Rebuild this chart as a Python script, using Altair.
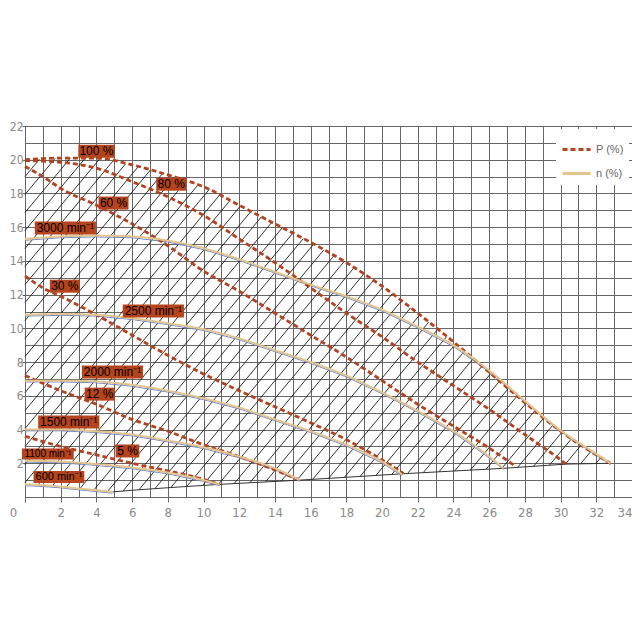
import altair as alt
import numpy as np
import pandas as pd

# ---------------- data ----------------
# Power curves P (%)  (x = flow, y = head)
P100_X = [0, 2, 4, 6, 8, 10, 12, 14, 16, 18, 20, 22, 24, 26, 28, 30, 32, 32.8]
P100_Y = [20.0, 20.1, 20.1, 19.7, 19.1, 18.4, 17.3, 16.2, 15.1, 13.9, 12.5, 10.9, 9.2, 7.4, 5.6, 3.9, 2.5, 2.0]
P80_X = [0, 2, 4, 6, 8, 10, 12, 14, 16, 18, 20, 22, 24, 26, 28, 30, 30.3]
P80_Y = [19.95, 19.85, 19.5, 18.7, 17.8, 16.7, 15.3, 13.9, 12.4, 10.9, 9.5, 8.0, 6.6, 5.2, 3.7, 2.2, 1.95]
P60_X = [0, 1, 2, 4, 6, 8, 10, 12, 14, 16, 18, 20, 22, 24, 26, 27.5]
P60_Y = [19.6, 19.0, 18.3, 17.3, 16.2, 14.9, 13.4, 12.2, 10.9, 9.6, 8.3, 6.9, 5.5, 4.2, 2.9, 1.8]
P30_X = [0, 1, 2, 4, 6, 8, 10, 12, 14, 16, 18, 20, 21.2]
P30_Y = [13.1, 12.4, 11.9, 10.8, 9.6, 8.4, 7.3, 6.3, 5.35, 4.4, 3.4, 2.2, 1.4]
P12_X = [0, 2, 4, 6, 8, 10, 12, 14, 15.4]
P12_Y = [7.2, 6.3, 5.5, 4.6, 3.9, 3.1, 2.4, 1.6, 1.0]
P5_X = [0, 2, 4, 6, 8, 10, 10.9]
P5_Y = [3.6, 3.0, 2.5, 2.0, 1.55, 1.05, 0.75]

# Speed curves n (min-1)
N3000_X = [0, 2, 4, 6, 8, 10, 12, 14, 16, 18, 20, 22, 24, 26, 28, 30, 32, 32.8]
N3000_Y = [15.3, 15.45, 15.5, 15.45, 15.2, 14.75, 14.1, 13.35, 12.6, 11.9, 11.1, 10.1, 9.0, 7.5, 5.7, 3.95, 2.55, 2.0]
N2500_X = [0, 2, 4, 6, 8, 10, 12, 14, 16, 18, 20, 22, 24, 26, 26.8]
N2500_Y = [10.8, 10.85, 10.8, 10.6, 10.3, 9.95, 9.4, 8.7, 8.0, 7.2, 6.2, 5.1, 3.9, 2.4, 1.7]
N2000_X = [0, 2, 4, 6, 8, 10, 12, 14, 16, 18, 20, 21.1]
N2000_Y = [6.9, 6.9, 6.85, 6.65, 6.3, 5.85, 5.3, 4.6, 3.9, 3.1, 2.1, 1.35]
N1500_X = [0, 2, 4, 6, 8, 10, 12, 14, 15.4]
N1500_Y = [4.0, 4.0, 3.9, 3.7, 3.35, 2.95, 2.4, 1.7, 1.0]
N1100_X = [0, 2, 4, 6, 8, 10, 10.9]
N1100_Y = [2.15, 2.1, 1.95, 1.75, 1.45, 1.0, 0.75]
N600_X = [0, 1, 2, 3, 4, 4.9]
N600_Y = [0.75, 0.7, 0.62, 0.5, 0.4, 0.3]

# lower limit of the operating field
BOUND_X = [4.9, 6, 8, 10.9, 15.4, 21.2, 26.8, 30.3, 32.8]
BOUND_Y = [0.3, 0.4, 0.55, 0.75, 1.0, 1.38, 1.7, 1.95, 2.0]

# curve labels
LABELS = ["100 %", "80 %", "60 %", "3000 min⁻¹", "30 %", "2500 min⁻¹",
          "2000 min⁻¹", "12 %", "1500 min⁻¹", "1100 min⁻¹", "5 %", "600 min⁻¹"]
LABEL_X = [4.0, 8.19, 4.96, 2.26, 2.23, 7.19, 4.9, 4.18, 2.45, 1.28, 5.74, 1.9]
LABEL_Y = [20.5, 18.55, 17.43, 15.95, 12.5, 11.03, 7.41, 6.1, 4.45, 2.55, 2.73, 1.19]
LABEL_FS = [12, 12, 12, 12, 12, 12, 12, 12, 12, 10, 12, 11]

X_TICKS = list(range(0, 35))
Y_TICKS = list(range(0, 23))

# ---------------- tables ----------------
P_CURVES = [("100 %", P100_X, P100_Y), ("80 %", P80_X, P80_Y), ("60 %", P60_X, P60_Y),
            ("30 %", P30_X, P30_Y), ("12 %", P12_X, P12_Y), ("5 %", P5_X, P5_Y)]
N_CURVES = [("3000", N3000_X, N3000_Y), ("2500", N2500_X, N2500_Y), ("2000", N2000_X, N2000_Y),
            ("1500", N1500_X, N1500_Y), ("1100", N1100_X, N1100_Y), ("600", N600_X, N600_Y)]

p_rows = []
for name, xs_, ys_ in P_CURVES:
    for i, (a, b) in enumerate(zip(xs_, ys_)):
        p_rows.append({"curve": name, "x": a, "y": b, "i": i, "kind": "P (%)"})
n_rows = []
for name, xs_, ys_ in N_CURVES:
    for i, (a, b) in enumerate(zip(xs_, ys_)):
        n_rows.append({"curve": name, "x": a, "y": b, "i": i, "kind": "n (%)"})
p_df = pd.DataFrame(p_rows)
n_df = pd.DataFrame(n_rows)
bound_df = pd.DataFrame({"x": BOUND_X, "y": BOUND_Y, "i": range(len(BOUND_X))})

W, H = 607, 371
# hatch of the operating field (diagonal lines clipped to the field)
PX_X = W / 34.0
PX_Y = H / 22.0
SLOPE = 1.2 * PX_X / PX_Y          # data-unit slope of hatch lines
SPACING = 15 / PX_X                # horizontal spacing of hatch lines
gx = np.linspace(0, 32.8, 5000)
top = np.interp(gx, P100_X, P100_Y)
bot = np.interp(gx, N600_X[:-1] + BOUND_X, N600_Y[:-1] + BOUND_Y)
h_rows = []
for x0 in np.arange(-20, 33, SPACING):
    yy = SLOPE * (gx - x0)
    m = (yy >= bot) & (yy <= top)
    if m.any():
        idx = np.where(m)[0]
        h_rows.append({"x": gx[idx[0]], "y": yy[idx[0]], "x2": gx[idx[-1]], "y2": yy[idx[-1]]})
hatch_df = pd.DataFrame(h_rows)

# label boxes
lab_rows = []
for t, a, b, fs in zip(LABELS, LABEL_X, LABEL_Y, LABEL_FS):
    n_eff = len(t) - 0.5 * sum(ch in "⁻¹" for ch in t)
    wpx = fs * 0.52 * n_eff + 5
    hpx = fs + 1
    lab_rows.append({"label": t, "x": a, "y": b, "fs": fs,
                     "bx": a - wpx / 2 / PX_X, "bx2": a + wpx / 2 / PX_X,
                     "by": b - hpx / 2 / PX_Y, "by2": b + hpx / 2 / PX_Y})
lab_df = pd.DataFrame(lab_rows)

# ---------------- styling ----------------
GRID = "#666666"
LABC = "#8a8a8a"
RED = "#b4421e"
TAN = "#e3c48c"
BOX = "#b5441c"
AXFONT = "Liberation Sans Narrow, DejaVu Sans Condensed, Liberation Sans"

x_axis = alt.Axis(
    values=X_TICKS, grid=True, gridColor=GRID, gridWidth=1,
    domainColor=GRID, tickColor=GRID, tickSize=5,
    tickOpacity={"condition": {"test": "datum.value % 2 === 0", "value": 1}, "value": 0},
    labelExpr="datum.value % 2 === 0 ? datum.label : ''",
    labelOffset={"condition": {"test": "datum.value === 0", "value": -12}, "value": 0},
    labelAlign={"condition": {"test": "datum.value === 34", "value": "right"}, "value": "center"},
    labelFont=AXFONT, labelFontSize=13, labelColor=LABC, labelPadding=4,
    labelFlush=False, labelOverlap=False, title=None)
y_axis = alt.Axis(
    values=Y_TICKS, grid=True, gridColor=GRID, gridWidth=1,
    domainColor=GRID, tickColor=GRID, tickSize=3,
    tickOpacity={"condition": {"test": "datum.value % 2 === 0 && datum.value > 0", "value": 1}, "value": 0},
    labelExpr="datum.value % 2 === 0 && datum.value > 0 ? datum.label : ''",
    labelFont=AXFONT, labelFontSize=12, labelColor=LABC, labelPadding=-1,
    labelFlush=False, labelOverlap=False, title=None)

xsc = alt.Scale(domain=[0, 34], nice=False, zero=False)
ysc = alt.Scale(domain=[0, 22], nice=False, zero=False)
X = lambda f="x": alt.X(f"{f}:Q", scale=xsc, axis=x_axis)
Y = lambda f="y": alt.Y(f"{f}:Q", scale=ysc, axis=y_axis)

leg = alt.Legend(title=None, orient="top-right", offset=3,
                 fillColor="white", padding=5,
                 symbolType="stroke", symbolSize=784,
                 symbolStrokeWidth=3, labelFont="Liberation Sans",
                 labelFontSize=11, labelColor="#666666",
                 rowPadding=2)
color_enc = alt.Color("kind:N", scale=alt.Scale(domain=["P (%)", "n (%)"], range=[RED, TAN]),
                      legend=leg)
dash_enc = alt.StrokeDash("kind:N", scale=alt.Scale(domain=["P (%)", "n (%)"], range=[[5, 3], [1, 0]]),
                          legend=leg)

hatch = alt.Chart(hatch_df).mark_rule(color="#1a1a1a", strokeWidth=0.9).encode(
    x=X(), y=Y(), x2="x2:Q", y2="y2:Q")

bound = alt.Chart(bound_df).mark_line(color="#333333", strokeWidth=1).encode(
    x=X(), y=Y(), order="i:Q")

blue = alt.Chart(n_df).mark_line(color="#7088cc", strokeWidth=1, yOffset=1.3).encode(
    x=X(), y=Y(), detail="curve:N", order="i:Q")

p_lines = alt.Chart(p_df).mark_line(strokeWidth=2.8, interpolate="monotone").encode(
    x=X(), y=Y(), detail="curve:N", order="i:Q", color=color_enc, strokeDash=dash_enc)

n_lines = alt.Chart(n_df).mark_line(strokeWidth=2, interpolate="monotone").encode(
    x=X(), y=Y(), detail="curve:N", order="i:Q", color=color_enc, strokeDash=dash_enc)

boxes = alt.Chart(lab_df).mark_rect(color=BOX).encode(
    x=X("bx"), x2="bx2:Q", y=Y("by"), y2="by2:Q")

texts = alt.Chart(lab_df).mark_text(font="Liberation Sans", color="black",
                                    align="center", baseline="middle").encode(
    x=X(), y=Y(), text="label:N", size=alt.Size("fs:Q", scale=None, legend=None))

chart = alt.layer(hatch, bound, blue, p_lines, n_lines, boxes, texts).properties(
    width=W, height=H,
    autosize=alt.AutoSizeParams(type="none"),
    padding={"left": 17, "top": 118, "right": 0, "bottom": 40},
).configure_view(stroke=None).configure(background="white")

chart.save("out.html", embed_options={"renderer": "svg", "actions": False})
